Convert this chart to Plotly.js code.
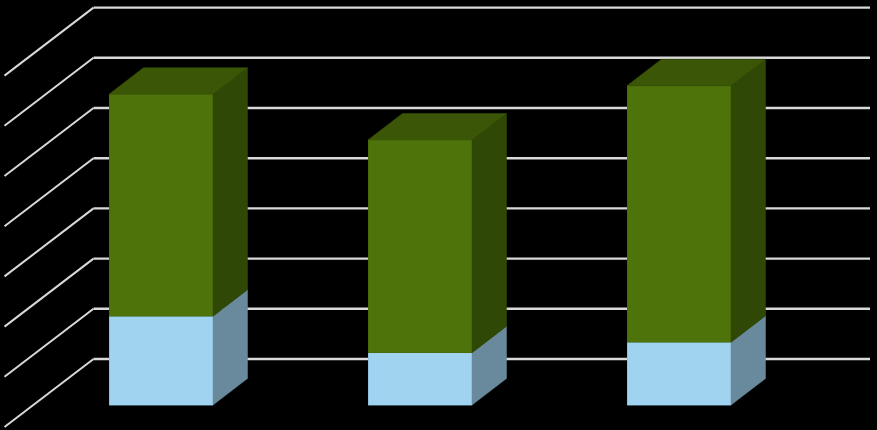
<!DOCTYPE html>
<html>
<head>
<meta charset="utf-8">
<script src="https://cdn.plot.ly/plotly-3.0.1.min.js"></script>
<style>html,body{margin:0;padding:0;background:#000;overflow:hidden}#c{width:877px;height:430px}</style>
</head>
<body>
<div id="c"></div>
<script>
// Data (units = one gridline step)
const categories = [0, 1, 2];
const blueValues = [1.77, 1.04, 1.25];
const greenValues = [4.42, 4.24, 5.11];
const gridLevels = [0, 1, 2, 3, 4, 5, 6, 7];

// Oblique projection settings
const pxPerCat = 259, pxPerUnit = 50.2;
const barWidth = 104 / pxPerCat;
const depthX = 34.5 / pxPerCat, depthY = 26.5 / pxPerUnit;
const wallLevel = 46 / pxPerUnit;           // height of value 0 on the back wall
const wallDX = 89 / pxPerCat, wallDY = 68 / pxPerUnit;
const wallLeft = (93.5 - 161) / pxPerCat, wallRight = (870 - 161) / pxPerCat;

const traces = [];
function poly(xs, ys, fill, edge) {
  traces.push({type: 'scatter', mode: 'lines', x: xs, y: ys, fill: 'toself', fillcolor: fill,
    line: {color: edge, width: 0.5}, hoverinfo: 'skip', showlegend: false});
}

// gridlines sit behind the bars
const shapes = [];
gridLevels.forEach(g => {
  const y = wallLevel + g;
  const line = {type: 'line', xref: 'x', yref: 'y', layer: 'below'};
  shapes.push(Object.assign({}, line, {x0: wallLeft - wallDX, y0: y - wallDY, x1: wallLeft, y1: y,
    line: {color: '#d9d9d9', width: 2}}));
  shapes.push(Object.assign({}, line, {x0: wallLeft, y0: y, x1: wallRight, y1: y,
    line: {color: '#d9d9d9', width: 2.4}}));
});

// front faces as real stacked bars
traces.push({type: 'bar', x: categories, y: blueValues, width: barWidth,
  marker: {color: '#9fd3f0', line: {color: '#7fb2cf', width: 0.5}}, name: 'A', showlegend: false});
traces.push({type: 'bar', x: categories, y: greenValues, width: barWidth,
  marker: {color: '#4e730b', line: {color: '#446508', width: 0.5}}, name: 'B', showlegend: false});

// side and top faces
categories.forEach((c, i) => {
  const r = c + barWidth / 2, l = c - barWidth / 2;
  const b = blueValues[i], t = b + greenValues[i];
  poly([r, r + depthX, r + depthX, r, r], [0, depthY, b + depthY, b, 0], '#698a9d', '#698a9d');
  poly([r, r + depthX, r + depthX, r, r], [b, b + depthY, t + depthY, t, b], '#304806', '#304806');
  poly([l, l + depthX, r + depthX, r, l], [t, t + depthY, t + depthY, t, t], '#3b5607', '#3b5607');
});

const layout = {
  width: 877, height: 430,
  margin: {l: 0, r: 0, t: 0, b: 0},
  paper_bgcolor: '#000', plot_bgcolor: '#000',
  barmode: 'stack', showlegend: false, shapes: shapes,
  xaxis: {range: [-161 / pxPerCat, (877 - 161) / pxPerCat], visible: false, fixedrange: true},
  yaxis: {range: [-25 / pxPerUnit, 405 / pxPerUnit], visible: false, fixedrange: true}
};
Plotly.newPlot('c', traces, layout, {displayModeBar: false, staticPlot: true});
</script>
</body>
</html>
